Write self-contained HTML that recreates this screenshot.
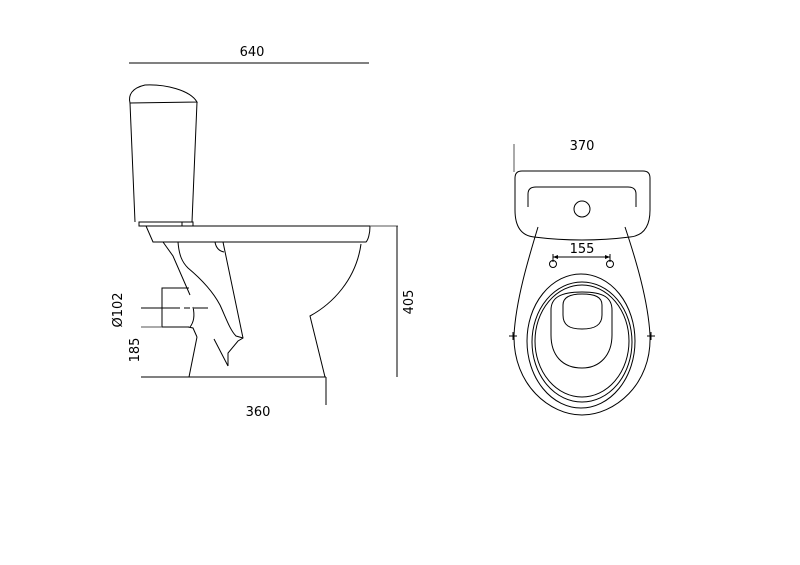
<!DOCTYPE html>
<html><head><meta charset="utf-8"><style>
html,body{margin:0;padding:0;background:#fff;width:800px;height:565px;overflow:hidden}
text{font-family:"DejaVu Sans","Liberation Sans",sans-serif;font-size:13px;fill:#000}
</style></head><body>
<svg width="800" height="565" viewBox="0 0 800 565" xmlns="http://www.w3.org/2000/svg">
<g fill="none" stroke="#000" stroke-width="1">
<!-- top dim -->
<line x1="129" y1="63" x2="369" y2="63"/>
<!-- tank -->
<path d="M130,103 C128,95 132,88 145,85 C165,84 190,90 197,102 Z"/>
<path d="M130,103 L135,222 M197,102 L192,222"/>
<rect x="139" y="222" width="54" height="4"/>
<line x1="182" y1="222" x2="182" y2="226"/>
<!-- rim -->
<path d="M146,226 L370,226 C370,234 368,240 366,242 L153,242 Z"/>
<!-- bowl front -->
<path d="M361,244 C356,280 332,304 310,316 L325,377"/>
<line x1="326" y1="377" x2="326" y2="405"/>
<!-- base / floor -->
<line x1="141" y1="377" x2="326" y2="377"/>
<line x1="189" y1="377" x2="197" y2="337"/>
<path d="M197,337 L193,328 L188,327"/>
<!-- outlet box -->
<path d="M189,288 L162,288 L162,327 L189,327"/>
<path d="M193,307 C195,316 194,322 190,327"/>
<line x1="141" y1="327" x2="162" y2="327" stroke="#555"/>
<path d="M141,308 L180,308 M184,308 L190,308 M194,308 L208,308"/>
<!-- trap -->
<path d="M163,242 L173,256 L190,295"/>
<path d="M178,242 C179,255 182,262 188,268 C200,278 212,290 220,305 C226,318 230,330 236,336 L243,338"/>
<path d="M223,242 L243,338 L238,341 L228,353 L228,366"/>
<path d="M214,339 L228,366"/>
<path d="M215,242 C216,248 219,251 224,252"/>
<!-- 405 dim -->
<line x1="370" y1="226" x2="398" y2="226" stroke="#555"/>
<line x1="397" y1="226" x2="397" y2="377"/>

<!-- right view -->
<line x1="514" y1="144" x2="514" y2="172" stroke="#555"/>
<path d="M522,171 L643,171 Q650,171 650,178 L650,210 Q650,235 630,237 Q582,243 534,237 Q515,235 515,210 L515,178 Q515,171 522,171 Z"/>
<path d="M528,207 L528,194 Q528,187 536,187 L628,187 Q636,187 636,194 L636,207"/>
<circle cx="582" cy="209" r="8"/>
<path d="M538,227 C528,260 516,300 514,335 C513,385 550,415 582,415 C614,415 652,385 650,335 C648,300 636,260 625,227"/>
<line x1="509" y1="336" x2="517" y2="336"/><line x1="513" y1="332" x2="513" y2="340"/>
<line x1="647" y1="336" x2="655" y2="336"/><line x1="651" y1="332" x2="651" y2="340"/>
<ellipse cx="581" cy="341" rx="54" ry="67"/>
<ellipse cx="582" cy="342" rx="50" ry="60"/>
<ellipse cx="582" cy="341" rx="47" ry="56"/>
<path d="M551,310 C551,298 560,292 582,292 C604,292 612,298 612,310 L612,335 C612,355 600,368 582,368 C562,368 551,355 551,335 Z"/>
<path d="M563,305 C563,297 570,294 582,294 C595,294 602,297 602,305 L602,315 C602,325 595,329 582,329 C569,329 563,325 563,315 Z"/>
<circle cx="553" cy="264" r="3.5"/><circle cx="610" cy="264" r="3.5"/>
<line x1="553" y1="257" x2="610" y2="257"/>
<line x1="553" y1="254" x2="553" y2="262"/><line x1="610" y1="254" x2="610" y2="262"/>
</g>
<g fill="#000"><path d="M553,257 l5,-2 v4z M610,257 l-5,-2 v4z"/></g>
<text x="252" y="56" text-anchor="middle">640</text>
<text x="258" y="416" text-anchor="middle">360</text>
<text x="582" y="150" text-anchor="middle">370</text>
<text x="582" y="253" text-anchor="middle">155</text>
<text transform="translate(413,302) rotate(-90)" text-anchor="middle">405</text>
<text transform="translate(122,310) rotate(-90)" text-anchor="middle">Ø102</text>
<text transform="translate(139,350) rotate(-90)" text-anchor="middle">185</text>
</svg>
</body></html>
